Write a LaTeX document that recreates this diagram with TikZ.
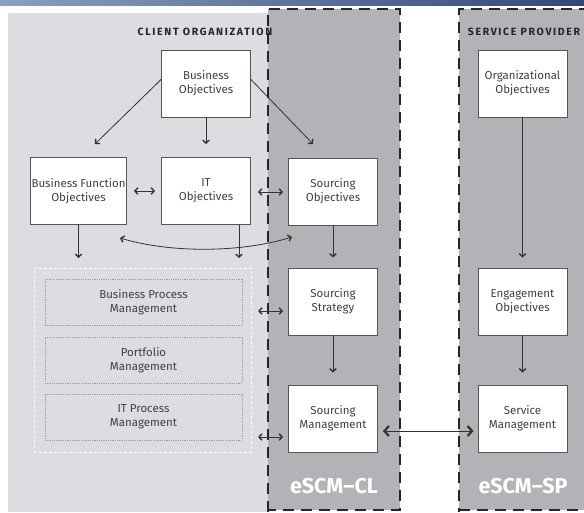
\documentclass[tikz,border=0pt]{standalone}
\usepackage{fontspec}
\setmainfont{Fira Sans}
\usetikzlibrary{arrows.meta,calc}
\definecolor{lightbg}{HTML}{DCDDE1}
\definecolor{darkbg}{HTML}{B2B2B7}
\definecolor{boxline}{HTML}{555555}
\definecolor{txt}{HTML}{404040}
\definecolor{arrc}{HTML}{333333}
\definecolor{dashc}{HTML}{262626}
\definecolor{bannerL}{HTML}{8E9EBF}
\definecolor{bannerR}{HTML}{33477A}
\begin{document}
\begin{tikzpicture}[x=1pt,y=-1pt,
  box/.style={draw=boxline, line width=0.9pt, fill=white, minimum width=89pt, minimum height=67pt,
    inner sep=1pt, align=center, text=txt, font=\fontsize{11.5}{14}\selectfont},
  subbox/.style={draw=gray!75, densely dotted, line width=0.8pt, minimum width=197pt, minimum height=46pt,
    inner sep=1pt, align=center, text=txt, font=\fontsize{11.5}{14}\selectfont},
  contbox/.style={draw=white, densely dashed, line width=0.9pt, minimum width=217pt, minimum height=184pt, inner sep=0pt},
  arr/.style={draw=arrc, line width=0.8pt, -{Straight Barb[length=3pt,width=6.5pt,line width=1.4pt]}},
  dbl/.style={draw=arrc, line width=0.8pt, {Straight Barb[length=3pt,width=6.5pt,line width=1.4pt]}-{Straight Barb[length=3pt,width=6.5pt,line width=1.4pt]}},
  bigdbl/.style={draw=arrc, line width=0.8pt, {Straight Barb[length=4.5pt,width=10pt,line width=2.2pt]}-{Straight Barb[length=4.5pt,width=10pt,line width=2.2pt]}},
  dashborder/.style={draw=dashc, line width=2.8pt, dash pattern=on 11pt off 7pt},
  title/.style={font=\fontsize{10.5}{12}\selectfont\bfseries\addfontfeatures{LetterSpace=16}, text=black!85},
  biglabel/.style={font=\fontsize{21.5}{24}\selectfont\bfseries, text=white}
]
\useasboundingbox (0,0) rectangle (584,512);
\fill[white] (0,0) rectangle (584,512);
% banner
\shade[left color=bannerL, right color=bannerR] (0,0) rectangle (584,5);
% client area
\fill[lightbg] (8,13) rectangle (268,512);
% dark areas
\fill[darkbg] (268,9) rectangle (400,510);
\fill[darkbg] (459,9) rectangle (590,510);
% titles
\node[title] (tco) at (205,32) {CLIENT ORGANIZATION};
\node[title] (tsp) at (524,32) {SERVICE PROVIDER};
% dashed borders
\draw[dashborder] (268,512) -- (268,9) -- (400,9) -- (400,510) -- (268,510);
\draw[dashborder] (590,9) -- (459,9) -- (459,512);
\draw[dashborder] (459,510) -- (590,510);
% boxes
\node[box] (bo) at (206,83.5) {Business\\Objectives};
\node[box] (bf) at (78.5,191) {Business Function\\Objectives};
\node[box] (it) at (206,191) {IT\\Objectives};
\node[box] (so) at (333,191.5) {Sourcing\\Objectives};
\node[box] (oo) at (522.5,83.5) {Organizational\\Objectives};
\node[box] (ss) at (333,301.5) {Sourcing\\Strategy};
\node[box] (sm) at (333,418.5) {Sourcing\\Management};
\node[box] (eo) at (522.5,301.5) {Engagement\\Objectives};
\node[box] (svm) at (522.5,418.5) {Service\\Management};
% container
\node[contbox] (cont) at (142.5,360) {};
\node[subbox] (bpm) at (143.5,302.5) {Business Process\\Management};
\node[subbox] (pm) at (143.5,360) {Portfolio\\Management};
\node[subbox] (itpm) at (143.5,417) {IT Process\\Management};
% free ends
\coordinate (t1) at (95,144);
\coordinate (t2) at (206,144);
\coordinate (t3) at (313,144);
\coordinate (t4) at (78.5,258);
\coordinate (t5) at (239,258);
\coordinate (c1) at (120,238);
\coordinate (c2) at (292,237);
% arrows
\draw[arr] ($(bo.west)+(0,-4)$) -- (t1);
\draw[arr] (bo.south) -- (t2);
\draw[arr] ($(bo.east)+(0,-4)$) -- (t3);
\draw[dbl, shorten <=7pt, shorten >=6pt] (bf.east) -- (it.west);
\draw[dbl, shorten <=7pt, shorten >=5pt] ($(it.east)+(0,1)$) -- ($(so.west)+(0,0.5)$);
\draw[dbl] (c1) .. controls (170,253) and (240,253) .. (c2);
\draw[arr] (bf.south) -- (t4);
\draw[arr] ($(it.south)+(33,0)$) -- (t5);
\draw[arr, shorten >=10pt] (so.south) -- (ss.north);
\draw[arr, shorten >=12pt] (ss.south) -- (sm.north);
\draw[arr, shorten >=10pt] (oo.south) -- (eo.north);
\draw[arr, shorten >=12pt] (eo.south) -- (svm.north);
\draw[dbl] ($(ss.west)+(-30,9.5)$) -- ($(ss.west)+(-5,9.5)$);
\draw[dbl] ($(sm.west)+(-30,18.5)$) -- ($(sm.west)+(-5,18.5)$);
\draw[bigdbl] ($(sm.east)+(5,12.5)$) -- ($(svm.west)+(-4,12.5)$);
% labels
\node[biglabel] (lcl) at (334,486) {eSCM–CL};
\node[biglabel] (lsp) at (523,486) {eSCM–SP};
\end{tikzpicture}
\end{document}
